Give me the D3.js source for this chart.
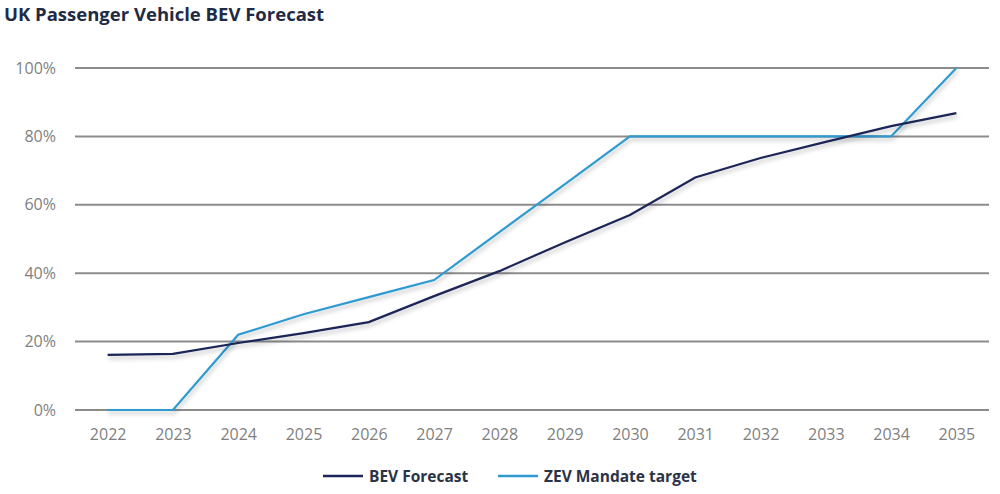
<!DOCTYPE html>
<html>
<head>
<meta charset="utf-8">
<script src="https://cdn.jsdelivr.net/npm/d3@7"></script>
<style>
  body { margin: 0; background: #fff; }
  svg { display: block; }
</style>
</head>
<body>
<svg></svg>
<script>
const w = 1000;
const h = 494;

const years = ['2022', '2023', '2024', '2025', '2026', '2027', '2028', '2029', '2030', '2031', '2032', '2033', '2034', '2035'];
const bevForecast = [16.1, 16.4, 19.6, 22.5, 25.7, 33.3, 40.6, 49, 57, 68, 73.7, 78.4, 83, 86.8];
const zevTarget = [0, 0, 22, 28, 33, 38, 52, 66, 80, 80, 80, 80, 80, 100];
const yTicks = [0, 20, 40, 60, 80, 100];

const svg = d3.select('svg').attr('width', w).attr('height', h);

const x = d3.scalePoint().domain(years).range([75, 989]).padding(0.5);
const y = d3.scaleLinear().domain([0, 100]).range([410, 68]);

const defs = svg.append('defs');
const shadow = defs.append('filter').attr('id', 'shadow')
  .attr('x', '-5%').attr('y', '-20%').attr('width', '110%').attr('height', '140%');
shadow.append('feDropShadow')
  .attr('dx', 1).attr('dy', 3).attr('stdDeviation', 2)
  .attr('flood-color', '#000').attr('flood-opacity', 0.25);

svg.append('text')
  .text('UK Passenger Vehicle BEV Forecast')
  .attr('x', 4)
  .attr('y', 21)
  .style('font-family', '"Open Sans", sans-serif')
  .style('font-weight', 'bold')
  .style('font-size', '18.5px')
  .attr('fill', '#1f2b45');

// gridlines
svg.append('g')
  .selectAll('line')
  .data(yTicks)
  .enter()
  .append('line')
  .attr('x1', 75)
  .attr('x2', 989)
  .attr('y1', d => y(d))
  .attr('y2', d => y(d))
  .attr('stroke', '#8c8c8c')
  .attr('stroke-width', 2);

const yAxis = svg.append('g')
  .attr('transform', 'translate(59,0)')
  .call(d3.axisLeft(y).tickValues(yTicks).tickFormat(d => d + '%').tickSize(0));
yAxis.select('.domain').remove();

const xAxis = svg.append('g')
  .attr('transform', 'translate(0,426)')
  .call(d3.axisBottom(x).tickSize(0));
xAxis.select('.domain').remove();

svg.selectAll('.tick text')
  .attr('fill', '#7f7f7f')
  .style('font-family', '"Open Sans", sans-serif')
  .style('font-size', '16px');
xAxis.selectAll('.tick text').attr('dy', '0.71em');

const line = d3.line().x((d, i) => x(years[i])).y(d => y(d));

svg.append('path')
  .datum(zevTarget)
  .attr('d', line)
  .attr('fill', 'none')
  .attr('stroke', '#2f9ad0')
  .attr('stroke-width', 2.2)
  .attr('filter', 'url(#shadow)');

svg.append('path')
  .datum(bevForecast)
  .attr('d', line)
  .attr('fill', 'none')
  .attr('stroke', '#1c2557')
  .attr('stroke-width', 2.2)
  .attr('filter', 'url(#shadow)');

// legend
const legend = [
  { name: 'BEV Forecast', color: '#1c2557', x: 323 },
  { name: 'ZEV Mandate target', color: '#2f9ad0', x: 498 }
];
const lg = svg.append('g').selectAll('g').data(legend).enter().append('g');
lg.append('line')
  .attr('x1', d => d.x)
  .attr('x2', d => d.x + 40)
  .attr('y1', 476)
  .attr('y2', 476)
  .attr('stroke', d => d.color)
  .attr('stroke-width', 2.5);
lg.append('text')
  .text(d => d.name)
  .attr('x', d => d.x + 46)
  .attr('y', 481.5)
  .style('font-family', '"Open Sans", sans-serif')
  .style('font-weight', 'bold')
  .style('font-size', '15.5px')
  .attr('fill', '#2b3346');
</script>
</body>
</html>
